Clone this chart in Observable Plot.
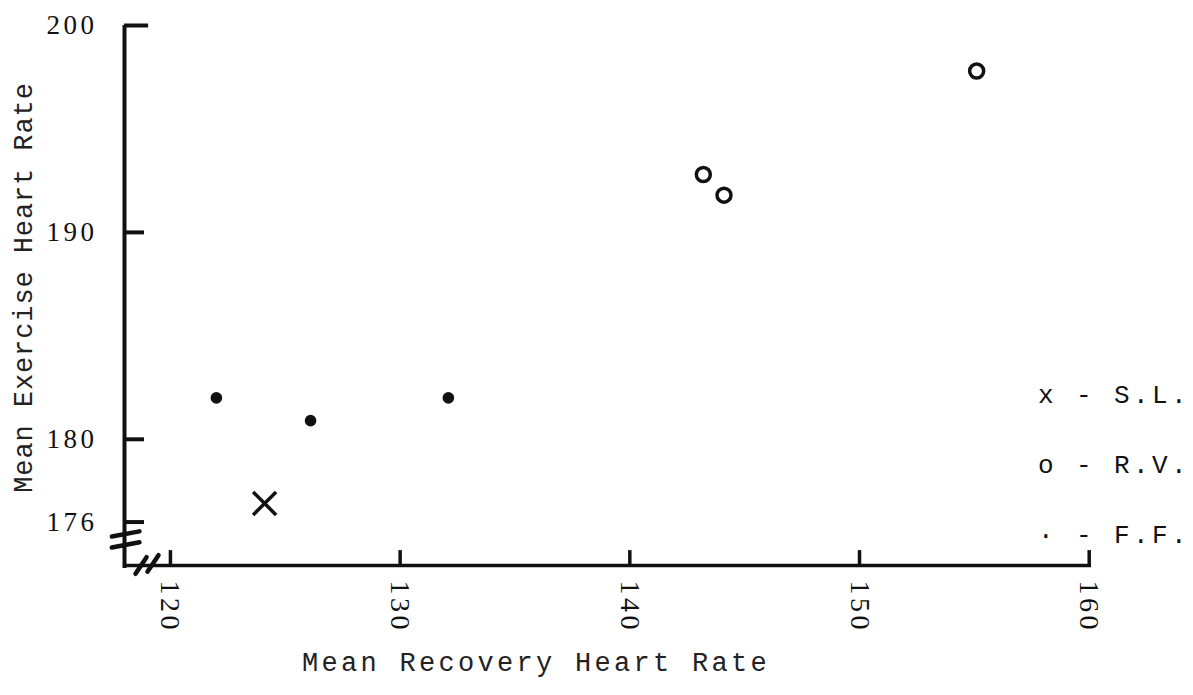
<!DOCTYPE html>
<html>
<head>
<meta charset="utf-8">
<script src="https://cdn.jsdelivr.net/npm/d3@7"></script>
<script src="https://cdn.jsdelivr.net/npm/@observablehq/plot@0.6"></script>
<style>
  html, body { margin: 0; padding: 0; background: #fff; }
  #wrap { position: relative; width: 1193px; height: 695px; }
  #legend { position: absolute; left: 1038px; top: 361px; font-family: "Liberation Mono", monospace; font-size: 26px; letter-spacing: 3.4px; color: #111; line-height: 70px; white-space: pre; }
</style>
</head>
<body>
<div id="wrap"><div id="legend"></div></div>
<script>
// Data
const ffX = [122.0, 126.1, 132.1];
const ffY = [182.0, 180.9, 182.0];
const slX = [124.1];
const slY = [176.9];
const rvX = [143.2, 144.1, 155.1];
const rvY = [192.8, 191.8, 197.8];

const xTicks = [120, 130, 140, 150, 160];
const yTicks = [176, 180, 190, 200];
const xDomain = [118, 160.1];
const yDomain = [173.9, 200];

const xTitle = "Mean Recovery Heart Rate";
const yTitle = "Mean Exercise Heart Rate";
const legendItems = ["x - S.L.", "o - R.V.", "\u00b7 - F.F."];

// axis-break glyph segments (data units)
const breakSegs = [
  {x1: 117.45, y1: 175.3, x2: 118.65, y2: 175.55},
  {x1: 117.45, y1: 174.77, x2: 118.65, y2: 175.02},
  {x1: 118.48, y1: 173.5, x2: 118.96, y2: 174.3},
  {x1: 119.0, y1: 173.6, x2: 119.48, y2: 174.4}
];

const ff = ffX.map((x, i) => ({x, y: ffY[i]}));
const sl = slX.map((x, i) => ({x, y: slY[i]}));
const rv = rvX.map((x, i) => ({x, y: rvY[i]}));

const ink = "#111";
const tickLenX = 0.87;  // data units along x for y ticks
const tickLenY = 0.72;  // data units along y for x ticks

const plot = Plot.plot({
  width: 1193,
  height: 695,
  marginTop: 25,
  marginLeft: 124,
  marginRight: 102,
  marginBottom: 130,
  x: {domain: xDomain},
  y: {domain: yDomain},
  style: {background: "#fff", color: ink},
  marks: [
    // axis lines
    Plot.ruleX([xDomain[0]], {y1: yDomain[0] - 0.15, y2: yDomain[1], stroke: ink, strokeWidth: 4}),
    Plot.ruleY([yDomain[0]], {x1: xDomain[0], x2: xDomain[1], stroke: ink, strokeWidth: 3.5}),
    // inward ticks
    Plot.ruleY(yTicks, {x1: xDomain[0], x2: d => xDomain[0] + (d === 200 ? 1.05 : tickLenX), stroke: ink, strokeWidth: 4}),
    Plot.ruleX(xTicks, {y1: yDomain[0], y2: yDomain[0] + tickLenY, stroke: ink, strokeWidth: 3.5}),
    // break marks
    Plot.link(breakSegs, {x1: "x1", y1: "y1", x2: "x2", y2: "y2", stroke: ink, strokeWidth: 4.5, strokeLinecap: "round"}),
    // tick labels
    Plot.axisY({ticks: yTicks, tickSize: 0, tickPadding: 27, label: null, fontSize: 27, fontFamily: "Liberation Serif", tickFormat: d => String(d)}),
    Plot.axisX({ticks: xTicks, tickSize: 0, tickPadding: 15, tickRotate: 90, label: null, fontSize: 28, fontFamily: "Liberation Serif", tickFormat: d => String(d)}),
    // titles
    Plot.text([yTitle], {frameAnchor: "left", textAnchor: "middle", dx: -101, dy: -8, rotate: -90, fontSize: 27, fontFamily: "Liberation Mono", fill: "#222", className: "ytitle"}),
    Plot.text([xTitle], {frameAnchor: "bottom", dx: -72, dy: 105, fontSize: 27, fontFamily: "Liberation Mono", fill: "#222", className: "xtitle"}),
    // data
    Plot.dot(ff, {x: "x", y: "y", r: 5.8, fill: ink, stroke: null}),
    Plot.dot(sl, {x: "x", y: "y", symbol: "times", r: 10.5, stroke: ink, strokeWidth: 3.5}),
    Plot.dot(rv, {x: "x", y: "y", r: 7, stroke: ink, strokeWidth: 3.5, fill: "none"})
  ]
});

// typewriter spacing on text
d3.select(plot).selectAll("text").attr("letter-spacing", "3.5px");
d3.select(plot).selectAll(".ytitle text").attr("letter-spacing", "0.9px");
d3.select(plot).selectAll(".xtitle text").attr("letter-spacing", "3.3px");

document.getElementById("wrap").prepend(plot);
document.getElementById("legend").textContent = legendItems.join("\n");
</script>
</body>
</html>
